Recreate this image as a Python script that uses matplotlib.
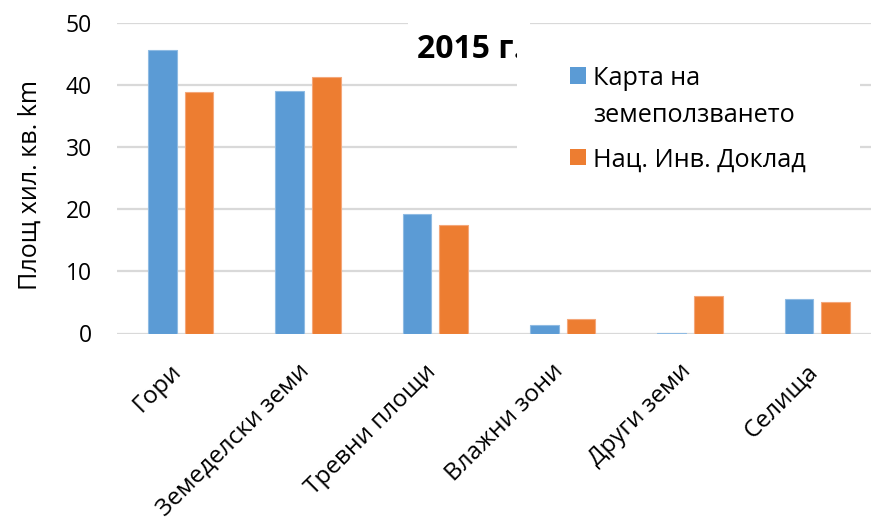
import matplotlib
matplotlib.use('Agg')
import matplotlib.pyplot as plt
from matplotlib.patches import Rectangle
from matplotlib.transforms import ScaledTranslation, blended_transform_factory
import numpy as np

categories = ['Гори', 'Земеделски земи', 'Тревни площи', 'Влажни зони', 'Други земи', 'Селища']
series_names = ['Карта на\nземеползването', 'Нац. Инв. Доклад']
map_values = [45.6, 39.0, 19.2, 1.37, 0.13, 5.55]
report_values = [38.9, 41.2, 17.45, 2.28, 6.03, 5.07]
yticks = [0, 10, 20, 30, 40, 50]
title = '2015 г.'
ylabel = 'Площ хил. кв. km'

BLUE = '#5B9BD5'
ORANGE = '#ED7D31'
GRID = '#D9D9D9'
FONT = ['Open Sans', 'DejaVu Sans']
plt.rcParams['font.family'] = FONT

W, H = 871, 526
fig = plt.figure(figsize=(W / 100, H / 100), dpi=100)


def fx(px):
    return px / W


def fy(py):
    return 1 - py / H


ax = fig.add_axes([fx(117), fy(333.5), fx(881) - fx(117), fy(22.7) - fy(333.5)])
x = np.arange(len(categories))
bw = 0.223
off = 0.144
ax.bar(x - off, map_values, bw, color=BLUE, edgecolor='#8FBBE3', linewidth=0.8, zorder=2)
ax.bar(x + off, report_values, bw, color=ORANGE, edgecolor='#F4A77A', linewidth=0.8, zorder=2)
ax.set_xlim(-0.5, len(categories) - 0.5)
ax.set_ylim(0, 50)
ax.set_yticks(yticks)
ax.yaxis.grid(True, color=GRID, linewidth=1.6)
ax.set_axisbelow(True)
for s in ax.spines.values():
    s.set_visible(False)
ax.tick_params(axis='both', length=0, labelsize=16.5, colors='black')
ax.tick_params(axis='y', pad=18)
ax.set_xticks(x)
ax.set_xticklabels([])

# rotated category labels (Excel-like placement)
base = blended_transform_factory(ax.transData, ax.transAxes)
tr = base + ScaledTranslation(-11 / 100, -26 / 100, fig.dpi_scale_trans)
for i, lab in enumerate(categories):
    ax.text(i, 0, lab, transform=tr, rotation=45, ha='right', va='top',
            rotation_mode='anchor', fontsize=17.5, clip_on=False)

fig.text(fx(30), fy(185), ylabel, rotation=90, ha='center', va='center', fontsize=18)

# title with white background
fig.patches.append(Rectangle((fx(408), fy(75)), fx(530) - fx(408), fy(12) - fy(75),
                             transform=fig.transFigure, facecolor='white', edgecolor='none', zorder=1))
fig.text(fx(417), fy(49), title, fontsize=23, fontweight='bold', ha='left', va='center', zorder=2)

# legend box
fig.patches.append(Rectangle((fx(517), fy(195)), fx(860) - fx(517), fy(30) - fy(195),
                             transform=fig.transFigure, facecolor='white', edgecolor='none', zorder=3))
leg_rows = [[75.5, 112], [157]]
for name, col, rows in zip(series_names, [BLUE, ORANGE], leg_rows):
    yy = rows[0]
    fig.patches.append(Rectangle((fx(570), fy(yy + 8)), fx(586) - fx(570), fy(yy - 8) - fy(yy + 8),
                                 transform=fig.transFigure, facecolor=col, edgecolor='none', zorder=4))
    for line, ly in zip(name.split('\n'), rows):
        fig.text(fx(593), fy(ly), line, fontsize=18.2, ha='left', va='center_baseline', zorder=5)

fig.savefig('out.png', dpi=100)
